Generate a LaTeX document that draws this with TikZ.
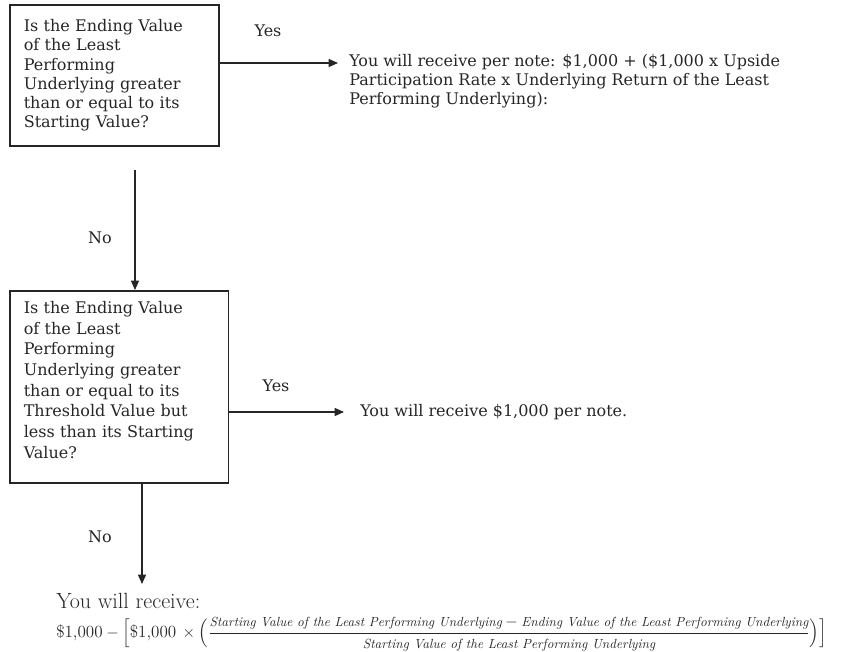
\documentclass[tikz,border=0pt]{standalone}
\usepackage{amsmath}
\usepackage{fontspec}
\usetikzlibrary{arrows.meta}
\newfontfamily\slabfont{DejaVu Serif}
\definecolor{ink}{gray}{0.15}
\newcommand{\termtext}[1]{\text{\fontsize{9.9}{10}\itshape #1}}

\begin{document}
\begin{tikzpicture}[x=0.75pt, y=-0.75pt, >={Triangle[length=7pt,width=6pt]}]
\tikzstyle{box}=[draw=ink, text=ink, line width=1.2pt, anchor=north west, align=left, inner xsep=10.5pt, font=\slabfont\fontsize{12}{14.4}\selectfont]
\tikzstyle{answer}=[text=ink, align=left, inner sep=0pt, font=\slabfont\fontsize{12}{14.3}\selectfont]
\tikzstyle{lbl}=[text=ink, inner sep=0pt, font=\slabfont\fontsize{12}{14}\selectfont]
\tikzstyle{flow}=[->, draw=ink, line width=1pt]
\useasboundingbox (0,0) rectangle (848,652);

% questions
\path (9,4) node[box, text width=136pt, minimum height=106pt] (q1)
{Is the Ending Value\\ of the Least\\ Performing\\ Underlying greater\\ than or equal to its\\ Starting Value?};
\path (9,290) node[box, text width=143pt, minimum height=144pt, font=\slabfont\fontsize{12}{15.5}\selectfont] (q2)
{Is the Ending Value\\ of the Least\\ Performing\\ Underlying greater\\ than or equal to its\\ Threshold Value but\\ less than its Starting\\ Value?\\[-5pt]\mbox{}};

% outcomes
\path (349,54) node[answer, anchor=north west] (ans1)
{You will receive per note: \$1,000 + (\$1,000 x Upside\\ Participation Rate x Underlying Return of the Least\\ Performing Underlying):};
\path (360,412) node[answer, anchor=west] (ans2) {You will receive \$1,000 per note.};
\path (56,601) node[anchor=west, inner sep=0pt, text=ink, font=\fontsize{16.5}{18}\selectfont] (ans3) {You will receive:};
\path (56,634) node[anchor=west, inner sep=0pt, text=ink, font=\fontsize{12.8}{14}\selectfont] (pay)
{$\text{\$1,000}-\Bigl[\text{\$1,000}\,\times\Bigl(\dfrac{\termtext{Starting Value of the Least Performing Underlying}-\termtext{Ending Value of the Least Performing Underlying}}{\termtext{Starting Value of the Least Performing Underlying}}\Bigr)\Bigr]$};

% labels
\path (268,31) node[lbl] (yes1) {Yes};
\path (276,386) node[lbl] (yes2) {Yes};
\path (100,238) node[lbl] (no1) {No};
\path (100,537) node[lbl] (no2) {No};

\coordinate (e1) at (338,63);
\coordinate (s1) at (135,170);
\coordinate (e3) at (142,584);
\draw[flow] (q1.east |- e1) -- (e1);
\draw[flow] (s1) -- (s1 |- q2.north);
\draw[flow, shorten >=12pt] (q2.east |- ans2.west) -- (ans2.west);
\draw[flow] (e3 |- q2.south) -- (e3);
\end{tikzpicture}
\end{document}
